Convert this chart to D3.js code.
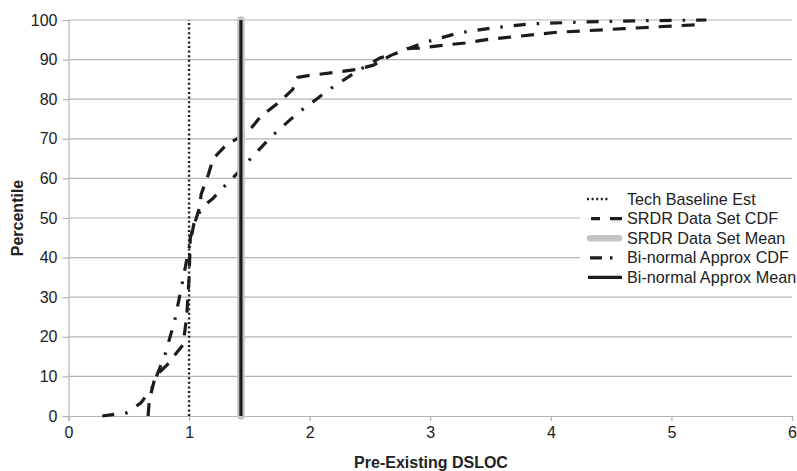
<!DOCTYPE html>
<html>
<head>
<meta charset="utf-8">
<script src="https://cdn.jsdelivr.net/npm/d3@7"></script>
<style>
  html, body { margin: 0; padding: 0; background: #fff; }
  svg { display: block; font-family: "Liberation Sans", Arial, Helvetica, sans-serif; }
</style>
</head>
<body>
<svg id="chart" width="797" height="471"></svg>
<script>
// Empirical CDF of the SRDR data set: [Pre-Existing DSLOC, percentile]
const srdrCdf = [
  [0.66, 0], [0.67, 4], [0.72, 10], [0.82, 13], [0.95, 18], [0.98, 25],
  [1.0, 35], [1.01, 45], [1.09, 53], [1.1, 56], [1.16, 61], [1.2, 65],
  [1.31, 68.5], [1.48, 71.4], [1.59, 75.5], [1.75, 79.3], [1.86, 82.5],
  [1.9, 85.5], [2.0, 86], [2.19, 86.7], [2.39, 87.5], [2.53, 88.6],
  [2.67, 91], [2.81, 92.8], [2.91, 92.9], [3.1, 93.6], [3.29, 94.2],
  [3.48, 95.1], [4.05, 96.9], [4.6, 97.8], [5.2, 98.8]
];

// Bi-normal approximation of the CDF
const binormalCdf = [
  [0.28, 0], [0.48, 0.8], [0.6, 3.3], [0.69, 7], [0.8, 15.4], [0.88, 24],
  [0.94, 33], [0.99, 41], [1.04, 48.5], [1.07, 50.7], [1.13, 53.3],
  [1.2, 55], [1.27, 57.3], [1.41, 61.6], [1.48, 64], [1.68, 70.5],
  [1.9, 76.5], [2.07, 80.3], [2.14, 82], [2.39, 87], [2.58, 90.4],
  [2.72, 91.6], [2.94, 94.2], [3.23, 96.7], [3.52, 98], [3.83, 99],
  [4.27, 99.5], [4.71, 99.8], [5.29, 100]
];

// Reference values
const techBaseline = 1.0;
const srdrMean = 1.43;
const binormalMean = 1.43;

const xTicks = [0, 1, 2, 3, 4, 5, 6];
const yTicks = [0, 10, 20, 30, 40, 50, 60, 70, 80, 90, 100];

const legendLabels = [
  "Tech Baseline Est",
  "SRDR Data Set CDF",
  "SRDR Data Set Mean",
  "Bi-normal Approx CDF",
  "Bi-normal Approx Mean"
];

const svg = d3.select("#chart");
const W = 797, H = 471;
const plot = { left: 68.5, right: 792, top: 20, bottom: 416 };

const x = d3.scaleLinear().domain([0, 6]).range([plot.left, plot.right]);
const y = d3.scaleLinear().domain([0, 100]).range([plot.bottom, plot.top]);

const gridColor = "#b4b4b4";
const ink = "#1c1c1c";

// Horizontal gridlines
svg.append("g")
  .selectAll("line")
  .data(yTicks.filter(d => d > 0))
  .join("line")
  .attr("x1", plot.left).attr("x2", plot.right)
  .attr("y1", d => y(d)).attr("y2", d => y(d))
  .attr("stroke", gridColor).attr("stroke-width", 1.2);

// Axes
const yAxis = svg.append("g")
  .attr("transform", `translate(${plot.left},0)`)
  .call(d3.axisLeft(y).tickValues(yTicks).tickSize(6).tickPadding(5).tickFormat(d3.format("d")));
const xAxis = svg.append("g")
  .attr("transform", `translate(0,${plot.bottom})`)
  .call(d3.axisBottom(x).tickValues(xTicks).tickSize(5).tickPadding(6).tickFormat(d3.format("d")));

[yAxis, xAxis].forEach(g => {
  g.select(".domain").attr("stroke", gridColor).attr("stroke-width", 1.2);
  g.selectAll(".tick line").attr("stroke", gridColor).attr("stroke-width", 1.2);
  g.selectAll(".tick text")
    .attr("fill", "#222")
    .style("font-size", "16px")
    .style("font-family", "'Liberation Sans', Arial, sans-serif");
});

// Axis titles
svg.append("text")
  .attr("x", 431).attr("y", 468)
  .attr("text-anchor", "middle")
  .style("font-size", "16px").style("font-weight", "bold")
  .attr("fill", "#222")
  .text("Pre-Existing DSLOC");

svg.append("text")
  .attr("transform", "translate(23,218) rotate(-90)")
  .attr("text-anchor", "middle")
  .style("font-size", "16px").style("font-weight", "bold")
  .attr("fill", "#222")
  .text("Percentile");

// Line styles
const styles = {
  tech:    { stroke: ink, width: 2.4, dash: "2,2.6", cap: "butt" },
  srdr:    { stroke: ink, width: 3.2, dash: "13,10", cap: "butt" },
  srdrMean:{ stroke: "#c4c4c4", width: 7.5, dash: null, cap: "round" },
  bin:     { stroke: ink, width: 3.2, dash: "12,11,2.5,11", cap: "butt" },
  binMean: { stroke: ink, width: 3.2, dash: null, cap: "butt" }
};

function applyStyle(sel, s) {
  sel.attr("stroke", s.stroke)
    .attr("stroke-width", s.width)
    .attr("stroke-linecap", s.cap)
    .attr("fill", "none");
  if (s.dash) sel.attr("stroke-dasharray", s.dash);
  return sel;
}

const line = d3.line().x(d => x(d[0])).y(d => y(d[1]));

// Tech baseline (vertical dotted)
applyStyle(svg.append("line")
  .attr("x1", x(techBaseline)).attr("x2", x(techBaseline))
  .attr("y1", y(0)).attr("y2", y(100)), styles.tech);

// SRDR CDF
applyStyle(svg.append("path").datum(srdrCdf).attr("d", line), styles.srdr)
  .attr("stroke-linejoin", "round");

// Bi-normal CDF
applyStyle(svg.append("path").datum(binormalCdf).attr("d", line), styles.bin)
  .attr("stroke-linejoin", "round");

// Means
applyStyle(svg.append("line")
  .attr("x1", x(srdrMean)).attr("x2", x(srdrMean))
  .attr("y1", y(0)).attr("y2", y(100)), styles.srdrMean);
applyStyle(svg.append("line")
  .attr("x1", x(binormalMean)).attr("x2", x(binormalMean))
  .attr("y1", y(0)).attr("y2", y(100)), styles.binMean);

// Legend
const legend = svg.append("g");
legend.append("rect")
  .attr("x", 580).attr("y", 187).attr("width", W - 580).attr("height", 102)
  .attr("fill", "#fff");

// Each swatch: [x1, x2, style, dash override]
const swatches = [
  [587, 608, styles.tech, "2,2.6"],
  [591, 622, styles.srdr, "9,10,12"],
  [590, 619, Object.assign({}, styles.srdrMean, { width: 6.5 }), null],
  [590, 613, styles.bin, "12,8,2.5,10"],
  [588, 622, styles.binMean, null]
];

legendLabels.forEach((label, i) => {
  const cy = 199 + i * 19.6;
  const [x1, x2, st, dash] = swatches[i];
  const s = Object.assign({}, st, { dash });
  applyStyle(legend.append("line")
    .attr("x1", x1).attr("x2", x2)
    .attr("y1", cy).attr("y2", cy), s);
  legend.append("text")
    .attr("x", 627).attr("y", cy)
    .attr("dy", "0.35em")
    .style("font-size", "16.2px")
    .attr("fill", "#222")
    .text(label);
});
</script>
</body>
</html>
